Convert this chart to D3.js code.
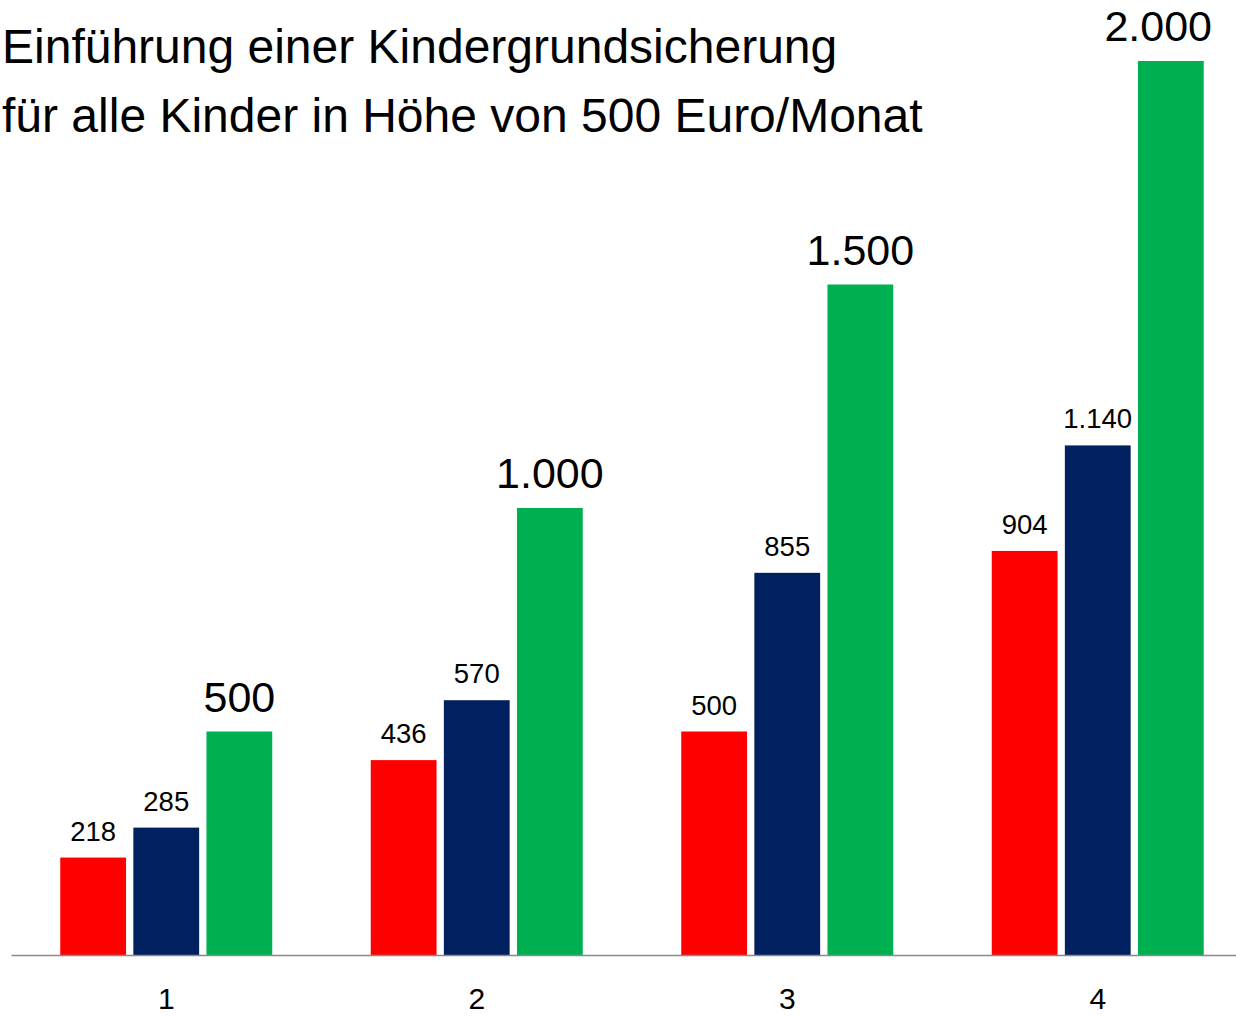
<!DOCTYPE html>
<html>
<head>
<meta charset="utf-8">
<script src="https://cdn.jsdelivr.net/npm/d3@7"></script>
<style>
  body { margin: 0; background: #fff; }
  svg { display: block; font-family: "Liberation Sans", Arial, sans-serif; }
</style>
</head>
<body>
<div id="chart"></div>
<script>
// data
const categories = ["1", "2", "3", "4"];
const seriesNames = ["rot", "blau", "gruen"];
const redValues = [218, 436, 500, 904];
const blueValues = [285, 570, 855, 1140];
const greenValues = [500, 1000, 1500, 2000];
const titleLines = ["Einführung einer Kindergrundsicherung", "für alle Kinder in Höhe von 500 Euro/Monat"];

const colors = { rot: "#ff0000", blau: "#002060", gruen: "#00b050" };
const labelSize = { rot: 27.5, blau: 27.5, gruen: 43 };
const labelGap = { rot: 17, blau: 17, gruen: 20 };

const W = 1236, H = 1016;
const baseY = 955;

const svg = d3.select("#chart").append("svg")
  .attr("width", W).attr("height", H);

// title
svg.append("g").selectAll("text")
  .data(titleLines)
  .enter().append("text")
  .attr("x", 2)
  .attr("y", (d, i) => 63 + i * 69)
  .style("font-size", "48px")
  .attr("fill", "#000")
  .text(d => d);

// scales
const x0 = d3.scaleBand().domain(categories).range([11, 1253]).padding(0);
const x1 = d3.scaleBand().domain(seriesNames).range([0, 212]).paddingInner(0.1);
const y = d3.scaleLinear().domain([0, 2000]).range([baseY, 61]);

const rows = categories.map((c, i) => ({
  cat: c,
  vals: [
    { key: "rot", v: redValues[i] },
    { key: "blau", v: blueValues[i] },
    { key: "gruen", v: greenValues[i] }
  ]
}));

const groupOffset = (x0.bandwidth() - 212) / 2;
const fmt = d3.formatLocale({ decimal: ",", thousands: ".", grouping: [3], currency: ["", "€"] }).format(",");

const groups = svg.selectAll(".grp")
  .data(rows)
  .enter().append("g")
  .attr("class", "grp")
  .attr("transform", d => `translate(${x0(d.cat) + groupOffset},0)`);

groups.selectAll("rect")
  .data(d => d.vals)
  .enter().append("rect")
  .attr("x", d => x1(d.key))
  .attr("y", d => y(d.v))
  .attr("width", x1.bandwidth())
  .attr("height", d => baseY - y(d.v))
  .attr("fill", d => colors[d.key]);

groups.selectAll("text")
  .data(d => d.vals)
  .enter().append("text")
  .attr("x", d => x1(d.key) + x1.bandwidth() / 2)
  .attr("y", d => y(d.v) - labelGap[d.key])
  .attr("text-anchor", "middle")
  .style("font-size", d => labelSize[d.key] + "px")
  .attr("fill", "#000")
  .text(d => fmt(d.v));

// keep labels inside the right edge (like the original)
svg.selectAll(".grp text").each(function() {
  const b = this.getBBox();
  const m = this.parentNode.getCTM();
  const right = b.x + b.width + m.e;
  if (right > W - 24) {
    d3.select(this).attr("x", +d3.select(this).attr("x") - (right - (W - 24)));
  }
});

// x axis
const xAxis = svg.append("g")
  .attr("transform", `translate(0,${baseY})`)
  .call(d3.axisBottom(x0).tickSize(0).tickSizeOuter(0).tickPadding(32.5));
xAxis.select(".domain").attr("stroke", "#898989").attr("stroke-width", 1.5);
xAxis.selectAll("text")
  .style("font-size", "30px")
  .style("font-family", "'Liberation Sans', Arial, sans-serif")
  .attr("fill", "#000");
</script>
</body>
</html>
